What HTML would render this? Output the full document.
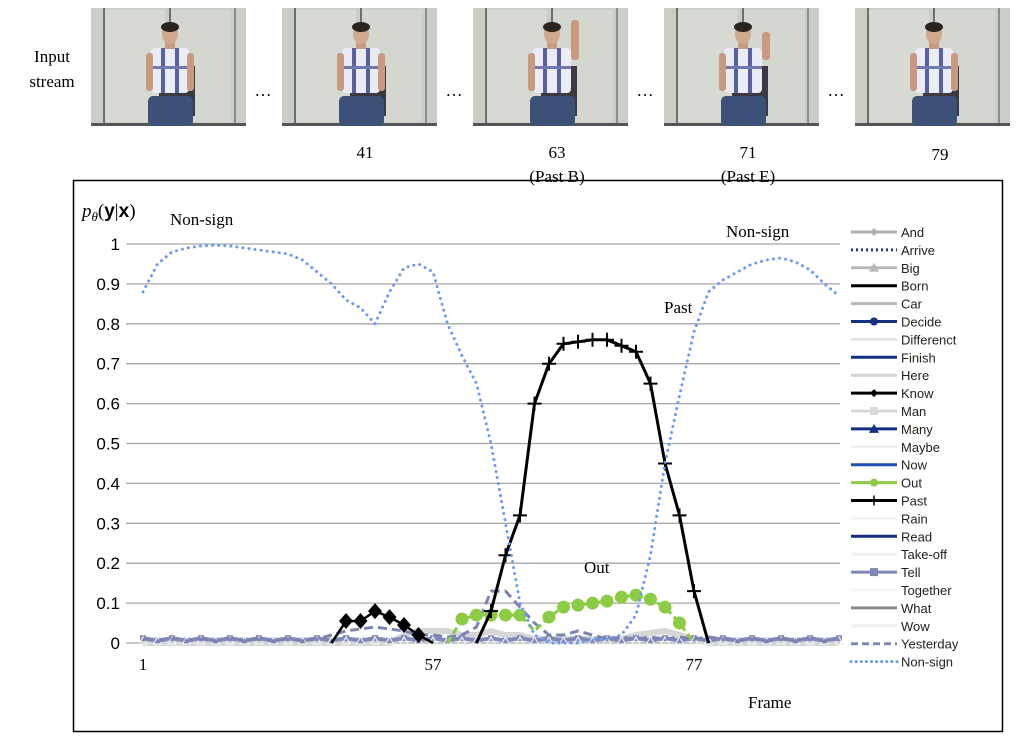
<!DOCTYPE html>
<html><head><meta charset="utf-8"><style>
html,body{margin:0;padding:0;background:#fff;}
svg{display:block;}
.serif{font-family:"Liberation Serif",serif;}
.sans{font-family:"Liberation Sans",sans-serif;}
</style></head><body>
<svg id="fig" width="1024" height="739" viewBox="0 0 1024 739" xmlns="http://www.w3.org/2000/svg">
<g id="photos"></g>
<text class="serif" x="52" y="62" font-size="17" text-anchor="middle">Input</text>
<text class="serif" x="52" y="87" font-size="17" text-anchor="middle">stream</text>
<g class="serif" font-size="17" text-anchor="middle">
<text x="263" y="96">…</text>
<text x="454" y="96">…</text>
<text x="645" y="96">…</text>
<text x="836" y="96">…</text>
<text x="365" y="158">41</text>
<text x="557" y="158">63</text>
<text x="557" y="182">(Past B)</text>
<text x="748" y="158">71</text>
<text x="748" y="182">(Past E)</text>
<text x="940" y="160">79</text>
</g>
<rect x="73.5" y="180.5" width="929" height="551" fill="none" stroke="#000" stroke-width="1.5"/>
<g id="grid"></g>
<g id="series"></g>
<g id="legend"></g>
<text class="serif" x="82" y="217" font-size="19" font-style="italic">p<tspan font-size="13" dy="4">θ</tspan><tspan dy="-4" font-style="normal">(</tspan><tspan font-weight="bold" font-family="Liberation Sans,sans-serif" font-style="normal">y</tspan><tspan font-style="normal">|</tspan><tspan font-weight="bold" font-family="Liberation Sans,sans-serif" font-style="normal">x</tspan><tspan font-style="normal">)</tspan></text>
<text class="serif" x="170" y="225" font-size="17">Non-sign</text>
<text class="serif" x="726" y="237" font-size="17">Non-sign</text>
<text class="serif" x="664" y="313" font-size="17">Past</text>
<text class="serif" x="584" y="573" font-size="17">Out</text>
<text class="serif" x="748" y="708" font-size="17">Frame</text>
</svg>
<script>
const yTicks=[0,0.1,0.2,0.3,0.4,0.5,0.6,0.7,0.8,0.9,1];
const yTickLabels=["0","0.1","0.2","0.3","0.4","0.5","0.6","0.7","0.8","0.9","1"];
const xLabelIdx=[0,20,38];
const xLabels=["1","57","77"];
const nonSign=[0.88,0.95,0.98,0.99,0.995,0.997,0.995,0.99,0.985,0.98,0.975,0.96,0.93,0.9,0.86,0.84,0.8,0.88,0.94,0.95,0.93,0.8,0.72,0.65,0.5,0.3,0.1,0.02,0,0,0,0.01,0.01,0.02,0.07,0.22,0.45,0.62,0.78,0.88,0.91,0.93,0.95,0.96,0.965,0.955,0.935,0.9,0.87];
const past=[0,0,0,0,0,0,0,0,0,0,0,0,0,0,0,0,0,0,0,0,0,0,0,0,0.08,0.22,0.32,0.6,0.7,0.75,0.755,0.76,0.76,0.745,0.73,0.65,0.45,0.32,0.13,0,0,0,0,0,0,0,0,0,0];
const know=[0,0,0,0,0,0,0,0,0,0,0,0,0,0,0.055,0.055,0.08,0.065,0.045,0.02,0,0,0,0,0,0,0,0,0,0,0,0,0,0,0,0,0,0,0,0,0,0,0,0,0,0,0,0,0];
const out=[0,0,0,0,0,0,0,0,0,0,0,0,0,0,0,0,0,0,0,0,0,0,0.06,0.07,0.07,0.07,0.07,0.03,0.065,0.09,0.095,0.1,0.105,0.115,0.12,0.11,0.09,0.05,0,0,0,0,0,0,0,0,0,0,0];
const yesterday=[0.01,0.005,0.01,0.005,0.01,0.005,0.01,0.005,0.01,0.005,0.01,0.005,0.01,0.02,0.03,0.035,0.04,0.035,0.03,0.02,0.02,0.015,0.02,0.04,0.13,0.13,0.09,0.05,0.02,0.02,0.03,0.02,0.01,0.015,0.01,0.015,0.01,0.015,0.01,0.015,0.01,0.005,0.01,0.005,0.01,0.005,0.01,0.005,0.01];
const tell=[0.012,0.006,0.012,0.006,0.012,0.006,0.012,0.006,0.012,0.006,0.012,0.006,0.012,0.006,0.012,0.006,0.012,0.006,0.012,0.006,0.012,0.006,0.012,0.006,0.012,0.006,0.012,0.006,0.012,0.006,0.012,0.006,0.012,0.006,0.012,0.006,0.012,0.006,0.012,0.006,0.012,0.006,0.012,0.006,0.012,0.006,0.012,0.006,0.012];
const manGray=[0,0,0,0,0,0,0,0,0,0,0,0,0,0,0,0,0,0,0.02,0.03,0.03,0.03,0.02,0.02,0.03,0.02,0.02,0.01,0.01,0.01,0.01,0.01,0.01,0.01,0.02,0.025,0.03,0.02,0.01,0,0,0,0,0,0,0,0,0,0];
const legendNames=["And","Arrive","Big","Born","Car","Decide","Differenct","Finish","Here","Know","Man","Many","Maybe","Now","Out","Past","Rain","Read","Take-off","Tell","Together","What","Wow","Yesterday","Non-sign"];
const legendColors=["#b0b0b0","#1f3a8a","#b8b8b8","#000","#b8b8b8","#14307e","#e4e4e4","#14307e","#d4d4d4","#000","#d8d8d8","#14307e","#f0f0f0","#1f4fae","#8ccc44","#000","#f4f4f4","#14307e","#f0f0f0","#8088b8","#f4f4f4","#888","#f0f0f0","#8088b8","#6c9af0"];

const NS="http://www.w3.org/2000/svg";
const X0=143,DX=14.5,Y0=643,YH=399;
function xs(i){return X0+i*DX;}
function ys(v){return Y0-v*YH;}
function mk(tag,attrs,parent){const e=document.createElementNS(NS,tag);for(const k in attrs)e.setAttribute(k,attrs[k]);parent.appendChild(e);return e;}

const photos=document.getElementById('photos');
const photoX=[91,282,473,664,855];
const armUp=[0,0,1,0.6,0];
photoX.forEach((px,k)=>{
  const g=mk('g',{transform:'translate('+px+',8)'},photos);
  
  
  mk('rect',{x:0,y:0,width:155,height:118,fill:'#c9cec6'},g);
  mk('rect',{x:12,y:2,width:62,height:112,fill:'#d6dad3'},g);
  mk('rect',{x:78,y:2,width:62,height:112,fill:'#d3d7d0'},g);
  mk('rect',{x:12,y:0,width:2,height:118,fill:'#6c706a'},g);
  mk('rect',{x:78,y:0,width:2,height:118,fill:'#6c706a'},g);
  mk('rect',{x:143,y:0,width:2,height:118,fill:'#8a8e88'},g);
  mk('rect',{x:0,y:115,width:155,height:3,fill:'#555'},g);
  mk('rect',{x:68,y:58,width:36,height:50,fill:'#3a3a40'},g);
  mk('rect',{x:57,y:88,width:45,height:30,fill:'#3c5078',rx:5},g);
  mk('rect',{x:60,y:40,width:38,height:45,fill:'#e9ecf4',rx:4},g);
  mk('rect',{x:70,y:40,width:4,height:45,fill:'#5860a0'},g);
  mk('rect',{x:84,y:40,width:4,height:45,fill:'#5860a0'},g);
  mk('rect',{x:60,y:58,width:38,height:3,fill:'#7078b0'},g);
  mk('rect',{x:74,y:33,width:10,height:8,fill:'#c89c80'},g);
  mk('ellipse',{cx:79,cy:26,rx:8,ry:10,fill:'#d0a88c'},g);
  mk('ellipse',{cx:79,cy:19,rx:9,ry:5,fill:'#2a2420'},g);
  mk('rect',{x:55,y:45,width:7,height:38,fill:'#c99a80',rx:3},g);
  if(armUp[k]>0){mk('rect',{x:98,y:42-30*armUp[k],width:8,height:10+30*armUp[k],fill:'#c99a80',rx:3},g);}
  else{mk('rect',{x:96,y:45,width:7,height:38,fill:'#c99a80',rx:3},g);}
});

const grid=document.getElementById('grid');
yTicks.forEach((v,i)=>{
  const l=mk('line',{x1:126,x2:840,y1:ys(v),y2:ys(v),stroke:'#a6a6a6','stroke-width':1.3},grid);
  
  
  const t=mk('text',{x:120,y:ys(v)+6,'font-size':17,'text-anchor':'end','font-family':'Liberation Sans,sans-serif'},grid);
  t.textContent=yTickLabels[i];
  
  
});
xLabelIdx.forEach((ix,i)=>{
  const t=mk('text',{x:xs(ix),y:670,'font-size':17,'text-anchor':'middle','font-family':'Liberation Serif,serif'},grid);
  t.textContent=xLabels[i];
  
  
});

const S=document.getElementById('series');
function pts(arr){return arr.map((v,i)=>xs(i).toFixed(1)+','+ys(v).toFixed(1)).join(' ');}
function line(arr,attrs,name){const p=mk('polyline',Object.assign({points:pts(arr),fill:'none','stroke-linejoin':'round'},attrs),S);return p;}
function activeRange(arr){let a=-1,b=-1;arr.forEach((v,i)=>{if(v>0){if(a<0)a=i;b=i;}});return [Math.max(0,a-1),Math.min(arr.length-1,b+1)];}
function sub(arr){const r=activeRange(arr);return {r,vals:arr.slice(r[0],r[1]+1)};}
function linePart(arr,attrs,name){const s=sub(arr);const p=mk('polyline',Object.assign({points:s.vals.map((v,j)=>xs(s.r[0]+j).toFixed(1)+','+ys(v).toFixed(1)).join(' '),fill:'none','stroke-linejoin':'round'},attrs),S);return s;}

line(manGray,{stroke:'#d6d6d6','stroke-width':6},'series-man');
line(tell,{stroke:'#8088b8','stroke-width':4},'series-tell');
tell.forEach((v,i)=>{const r=mk('rect',{x:xs(i)-3,y:ys(v)-3,width:6,height:6,fill:'#8088b8'},S);});
tell.forEach((v,i)=>{const t=mk('path',{d:'M'+(xs(i)-4)+','+(ys(0)+1)+' l4,-7 l4,7 z',fill:'none',stroke:'#f2f2f2','stroke-width':1.2},S);});
line(yesterday,{stroke:'#7c84b4','stroke-width':3,'stroke-dasharray':'9 5'},'series-yesterday');
linePart(know,{stroke:'#000','stroke-width':2.5},'series-know');
know.forEach((v,i)=>{if(v>0){const d=mk('path',{d:'M'+xs(i)+','+(ys(v)-8)+' l7,8 l-7,8 l-7,-8 z',fill:'#000'},S);}});
linePart(out,{stroke:'#8ccc44','stroke-width':3,'stroke-dasharray':'7 4'},'series-out');
out.forEach((v,i)=>{if(v>0.04){const c=mk('circle',{cx:xs(i),cy:ys(v),r:6.5,fill:'#8ccc44'},S);}});
linePart(past,{stroke:'#000','stroke-width':3},'series-past');
past.forEach((v,i)=>{if(v>0){const p=mk('path',{d:'M'+(xs(i)-7)+','+ys(v)+' h14 M'+xs(i)+','+(ys(v)-7)+' v14',stroke:'#000','stroke-width':2},S);}});
line(nonSign,{stroke:'#6c9af0','stroke-width':3,'stroke-dasharray':'0.1 6','stroke-linecap':'round'},'series-non-sign');

const L=document.getElementById('legend');
legendNames.forEach((n,i)=>{
  const y=232+i*17.9;const c=legendColors[i];
  const a={x1:851,x2:897,y1:y,y2:y,stroke:c,'stroke-width':3};
  if(n==='Arrive')a['stroke-dasharray']='2 3';
  if(n==='Yesterday')a['stroke-dasharray']='7 4';
  if(n==='Non-sign'){a['stroke-dasharray']='0.1 5';a['stroke-linecap']='round';}
  const l=mk('line',a,L);
  
  
  if(['Decide','Out'].includes(n)){mk('circle',{cx:874,cy:y,r:4,fill:c},L);}
  if(['Tell','Man'].includes(n)){mk('rect',{x:870,y:y-4,width:8,height:8,fill:c},L);}
  if(['Know','And'].includes(n)){mk('path',{d:'M874,'+(y-4)+' l4,4 l-4,4 l-4,-4 z',fill:c},L);}
  if(['Many','Big'].includes(n)){mk('path',{d:'M869,'+(y+4)+' l5,-9 l5,9 z',fill:c},L);}
  if(n==='Past'){mk('line',{x1:874,x2:874,y1:y-5,y2:y+5,stroke:'#000','stroke-width':1.5},L);}
  const t=mk('text',{x:901,y:y+5,'font-size':13,fill:'#222','font-family':'Liberation Sans,sans-serif'},L);
  t.textContent=n;
  
  
});
</script>
</body></html>
